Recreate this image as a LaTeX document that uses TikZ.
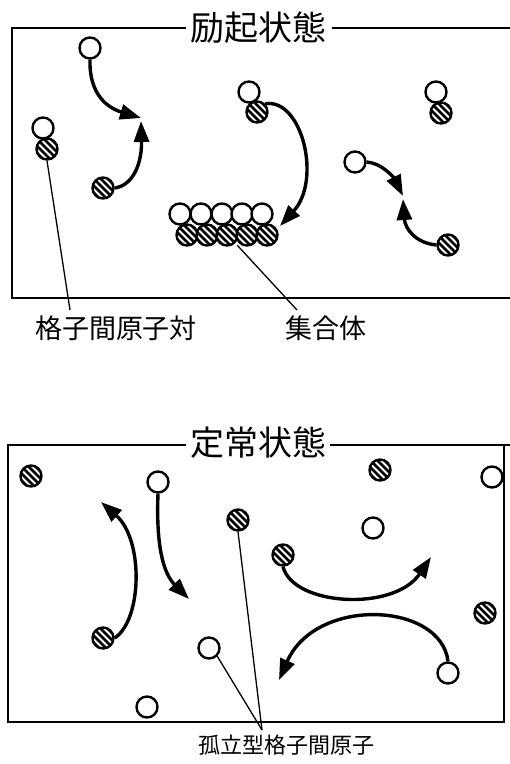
\documentclass[tikz,border=0pt]{standalone}
\usepackage{fontspec}
\newfontfamily\jp{Noto Sans CJK JP}
\usetikzlibrary{arrows.meta}
\tikzset{
  opn/.style={circle,draw,line width=2.4pt,fill=white,minimum size=21pt,inner sep=0pt},
  hat/.style={opn,path picture={
     \foreach \k in {-21,-14,...,21}
       \draw[line width=2.8pt] ([shift={(\k-14,-14)}]path picture bounding box.center) -- ++(28,28);}},
  arr/.style={line width=3.4pt,-{Triangle[length=21pt,width=15pt]}},
  frame/.style={line width=2.4pt},
  lead/.style={line width=1.3pt},
  ttl/.style={font=\jp\fontsize{34}{34}\selectfont,inner sep=0pt},
  lbl/.style={font=\jp\fontsize{27}{27}\selectfont,inner sep=0pt},
  lbls/.style={font=\jp\fontsize{22}{22}\selectfont,inner sep=0pt}
}
\begin{document}
\begin{tikzpicture}[x=1pt,y=-1pt]
\useasboundingbox[fill=white] (0,0) rectangle (510,764);

% ---------- top box ----------
\node[ttl] (t1) at (258,28) {励起状態};
\draw[frame] (t1.west) ++(-4,0) -- (12,28) -- (12,298) -- (510,298);
\draw[frame] (t1.east) ++(6,0) -- (510,28);

\node[opn] (o1) at (43,128) {};
\node[hat] (h1) at (47,149) {};
\node[opn] (o2) at (90,48) {};
\node[hat] (h2) at (103,188) {};
\node[opn] (o3) at (249,92) {};
\node[hat] (h3) at (257,112) {};
\node[opn] (o4) at (436,92) {};
\node[hat] (h4) at (441,113) {};
\node[opn] (o5) at (355,162) {};
\node[hat] (h5) at (448,245) {};

\foreach \i/\x in {1/180,2/201,3/222,4/242,5/262}
  \node[opn] (ao\i) at (\x,214) {};
\foreach \i/\x in {1/187,2/207,3/227,4/247,5/267}
  \node[hat] (ah\i) at (\x,235) {};

\coordinate (tipA) at (141,118);
\coordinate (tipB) at (141,121);
\draw[arr] (o2.south) .. controls (89,95) and (108,108) .. (tipA);
\draw[arr] (h2.east) .. controls (135,185) and (142,160) .. (tipB);

\coordinate (tipC) at (280,226);
\draw[arr] (h3.north east) .. controls (302,98) and (322,180) .. (tipC);

\coordinate (tipD) at (403,196);
\coordinate (tipE) at (403,199);
\draw[arr] (o5.east) .. controls (382,163) and (394,178) .. (tipD);
\draw[arr] (h5.west) .. controls (415,243) and (405,228) .. (tipE);

\node[lbl] (l1) at (116,328) {格子間原子対};
\node[lbl] (l2) at (326,328) {集合体};
\coordinate (e1) at (70,310);
\coordinate (e2) at (297,310);
\draw[lead] (h1.south) -- (e1);
\draw[lead] (ah3.south east) ++(2,2) -- (e2);

% ---------- bottom box ----------
\node[ttl] (t2) at (258,443) {定常状態};
\draw[frame] (t2.west) ++(-4,2) -- (8,445) -- (8,722) -- (504,722) -- (504,445) -- (510,445);
\draw[frame] (t2.east) ++(4,2) -- (504,445);

\node[hat] (s1) at (31,476) {};
\node[hat] (s2) at (103,638) {};
\node[hat] (s3) at (238,520) {};
\node[hat] (s4) at (380,470) {};
\node[hat] (s5) at (283,555) {};
\node[hat] (s6) at (485,613) {};
\node[opn] (p1) at (158,482) {};
\node[opn] (p2) at (209,648) {};
\node[opn] (p3) at (147,707) {};
\node[opn] (p4) at (492,477) {};
\node[opn] (p5) at (373,528) {};
\node[opn] (p6) at (448,673) {};

\coordinate (tipF) at (189,599);
\coordinate (tipG) at (101,502);
\coordinate (tipH) at (431,557);
\coordinate (tipI) at (279,680);
\draw[arr] (p1.south) .. controls (156,545) and (163,573) .. (tipF);
\draw[arr] (s2.east) .. controls (142,620) and (144,540) .. (tipG);
\draw[arr] (s5.south) .. controls (293,606) and (394,612) .. (tipH);
\draw[arr] (p6.north) .. controls (441,602) and (316,596) .. (tipI);

\node[lbls] (l3) at (286,745) {孤立型格子間原子};
\coordinate (e3) at (262,730);
\draw[lead] (s3.south) -- (e3);
\draw[lead] (p2.south east) -- (e3);
\end{tikzpicture}
\end{document}
